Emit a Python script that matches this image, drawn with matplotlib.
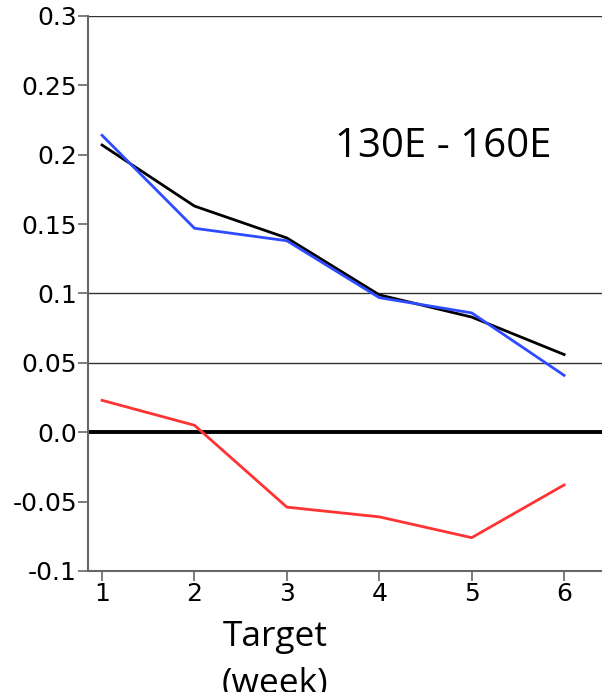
import matplotlib
matplotlib.use("Agg")
import matplotlib.pyplot as plt

weeks = [1, 2, 3, 4, 5, 6]
black_vals = [0.207, 0.163, 0.140, 0.099, 0.083, 0.056]
blue_vals = [0.214, 0.147, 0.138, 0.097, 0.086, 0.041]
red_vals = [0.023, 0.005, -0.054, -0.061, -0.076, -0.038]
yticks = [-0.1, -0.05, 0.0, 0.05, 0.1, 0.15, 0.2, 0.25, 0.3]
ytick_labels = ["-0.1", "-0.05", "0.0", "0.05", "0.1", "0.15", "0.2", "0.25", "0.3"]

fig = plt.figure(figsize=(6.02, 6.92), dpi=100)
ax = fig.add_axes([0.1462, 0.1749, 0.8538, 0.802])

for y in [0.3, 0.1, 0.05]:
    ax.axhline(y, color="#333333", lw=1.0, zorder=1)
ax.axhline(0.0, color="black", lw=2.8, zorder=1)

ax.plot(weeks, black_vals, color="black", lw=2.0, zorder=3)
ax.plot(weeks, blue_vals, color="#2f4bff", lw=2.0, zorder=4)
ax.plot(weeks, red_vals, color="#ff3333", lw=2.0, zorder=3)

ax.set_xlim(0.848, 6.41)
ax.set_ylim(-0.1, 0.3)
ax.set_xticks(weeks)
ax.set_xticklabels([str(w) for w in weeks])
ax.set_yticks(yticks)
ax.set_yticklabels(ytick_labels)

for s in ["top", "right"]:
    ax.spines[s].set_visible(False)
for s in ["left", "bottom"]:
    ax.spines[s].set_color("#666666")
    ax.spines[s].set_linewidth(1.5)

ax.tick_params(axis="both", direction="out", length=7, width=1.2, color="#666666",
               labelsize=18, labelcolor="black", pad=1)

ax.text(0.48, 0.764, "130E - 160E", transform=ax.transAxes, fontsize=29,
        family="Open Sans", ha="left", va="center")

fig.text(275 / 602, 1 - 637 / 692, "Target", fontsize=25.5, family="Open Sans",
         ha="center", va="center")
fig.text(275 / 602, 1 - 684 / 692, "(week)", fontsize=25.5, family="Open Sans",
         ha="center", va="center")

fig.savefig("out.png", dpi=100)
